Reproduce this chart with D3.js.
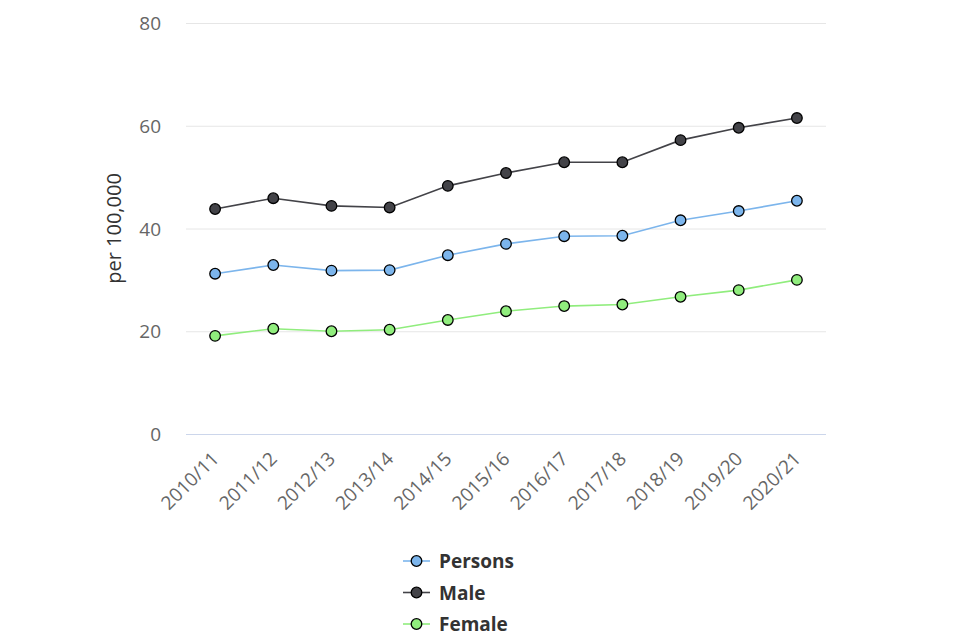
<!DOCTYPE html>
<html>
<head>
<meta charset="utf-8">
<script src="https://cdn.jsdelivr.net/npm/d3@7"></script>
<style>
  body { margin: 0; background: #fff; }
  text { font-family: "Open Sans", sans-serif; }
</style>
</head>
<body>
<svg id="chart" width="960" height="640"></svg>
<script>
// values
var categories = ['2010/11', '2011/12', '2012/13', '2013/14', '2014/15', '2015/16',
    '2016/17', '2017/18', '2018/19', '2019/20', '2020/21'];
var persons = [31.2, 32.9, 31.8, 31.9, 34.8, 37.0, 38.5, 38.6, 41.6, 43.4, 45.4];
var male = [43.8, 45.9, 44.4, 44.1, 48.3, 50.8, 52.9, 52.9, 57.2, 59.6, 61.5];
var female = [19.1, 20.5, 20.0, 20.3, 22.2, 23.9, 24.9, 25.2, 26.7, 28.0, 30.0];
var yTicks = [0, 20, 40, 60, 80];

var series = [
    {name: 'Persons', values: persons, color: '#7cb5ec'},
    {name: 'Male', values: male, color: '#434348'},
    {name: 'Female', values: female, color: '#90ed7d'}
];

var plot = {left: 186, right: 826, top: 23, bottom: 434};

var svg = d3.select('#chart');

var x = d3.scaleBand()
    .domain(categories)
    .range([plot.left, plot.right]);

var y = d3.scaleLinear()
    .domain([0, 80])
    .range([plot.bottom, plot.top]);

// gridlines
svg.append('g')
    .selectAll('line')
    .data(yTicks)
    .enter()
    .append('line')
    .attr('x1', plot.left)
    .attr('x2', plot.right)
    .attr('y1', function (d) { return y(d) + 0.5; })
    .attr('y2', function (d) { return y(d) + 0.5; })
    .attr('stroke', function (d) { return d === 0 ? '#ccd6eb' : '#e6e6e6'; })
    .attr('stroke-width', 1);

// y labels
svg.append('g')
    .selectAll('text')
    .data(yTicks)
    .enter()
    .append('text')
    .attr('x', 161)
    .attr('y', function (d) { return y(d) + 7; })
    .attr('text-anchor', 'end')
    .attr('fill', '#666666')
    .style('font-size', '19px')
    .text(function (d) { return d; });

svg.append('text')
    .attr('transform', 'translate(121,' + ((plot.top + plot.bottom) / 2) + ') rotate(-90)')
    .attr('text-anchor', 'middle')
    .attr('fill', '#333333')
    .style('font-size', '20px')
    .text('per 100,000');

// x labels
svg.append('g')
    .selectAll('text')
    .data(categories)
    .enter()
    .append('text')
    .attr('transform', function (d) {
        return 'translate(' + (x(d) + x.bandwidth() / 2 + 5) + ',' + (plot.bottom + 26) + ') rotate(-45)';
    })
    .attr('text-anchor', 'end')
    .attr('fill', '#666666')
    .style('font-size', '19px')
    .text(function (d) { return d; });

var line = d3.line()
    .x(function (d, i) { return x(categories[i]) + x.bandwidth() / 2; })
    .y(function (d) { return y(d); });

var groups = svg.selectAll('.series')
    .data(series)
    .enter()
    .append('g')
    .attr('class', 'series');

groups.append('path')
    .attr('d', function (s) { return line(s.values); })
    .attr('fill', 'none')
    .attr('stroke', function (s) { return s.color; })
    .attr('stroke-width', 1.6);

groups.each(function (s) {
    d3.select(this).selectAll('circle')
        .data(s.values)
        .enter()
        .append('circle')
        .attr('cx', function (d, i) { return x(categories[i]) + x.bandwidth() / 2; })
        .attr('cy', function (d) { return y(d); })
        .attr('r', 5.3)
        .attr('fill', s.color)
        .attr('stroke', '#000000')
        .attr('stroke-width', 1.3);
});

// legend
var legend = svg.append('g')
    .selectAll('g')
    .data(series)
    .enter()
    .append('g')
    .attr('transform', function (d, i) { return 'translate(403,' + (561 + i * 31.5) + ')'; });

legend.append('line')
    .attr('x1', 0)
    .attr('x2', 27)
    .attr('stroke', function (d) { return d.color; })
    .attr('stroke-width', 1.6);

legend.append('circle')
    .attr('cx', 13.5)
    .attr('r', 5.3)
    .attr('fill', function (d) { return d.color; })
    .attr('stroke', '#000000')
    .attr('stroke-width', 1.3);

legend.append('text')
    .attr('x', 36)
    .attr('y', 7)
    .attr('fill', '#333333')
    .style('font-size', '19px')
    .style('font-weight', 'bold')
    .text(function (d) { return d.name; });
</script>
</body>
</html>
